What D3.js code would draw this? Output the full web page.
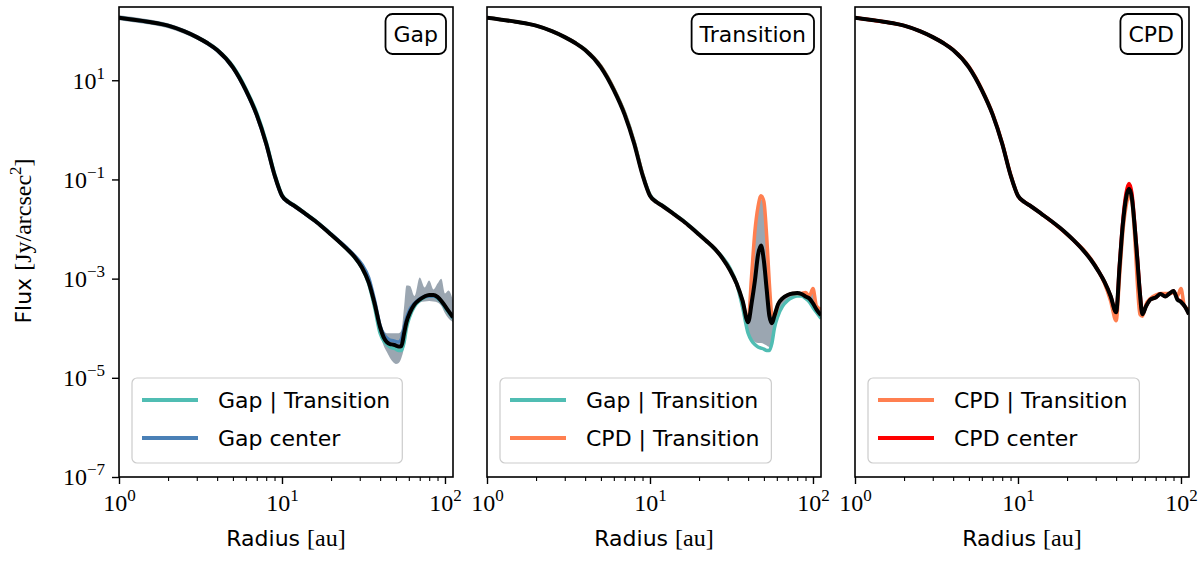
<!DOCTYPE html>
<html>
<head>
<meta charset="utf-8">
<script src="https://cdn.jsdelivr.net/npm/d3@7/dist/d3.min.js"></script>
<style>
  body { margin: 0; background: #fff; }
  svg { display: block; }
</style>
</head>
<body>
<svg id="chart" width="1200" height="561"></svg>
<script>
// ---------------- DATA ----------------
const radius = [1, 1.5, 2, 2.5, 3, 3.5, 4, 5, 6, 7, 8, 9, 10, 11, 12, 14, 16, 18, 20, 22, 25, 28, 31, 34, 37, 40, 42, 44, 46, 48, 50, 52, 54, 56, 58, 61, 65, 70, 75, 80, 85, 90, 95, 100, 105, 112];

// Panel "Gap"
const meanGap = [182, 151, 126, 97.7, 74.1, 55.6, 40.7, 18.2, 6.31, 2.0, 0.525, 0.123, 0.0468, 0.0347, 0.0288, 0.0200, 0.0145, 0.0105, 7.76e-3, 5.89e-3, 3.98e-3, 2.69e-3, 1.66e-3, 8.51e-4, 3.16e-4, 1.05e-4, 6.61e-5, 5.25e-5, 4.79e-5, 4.68e-5, 4.47e-5, 4.27e-5, 4.37e-5, 7.59e-5, 1.32e-4, 2.09e-4, 3.02e-4, 3.80e-4, 4.37e-4, 4.68e-4, 4.68e-4, 4.27e-4, 3.55e-4, 2.82e-4, 2.24e-4, 1.66e-4];
const gapTransition = [182, 151, 126, 97.7, 74.1, 56.2, 41.7, 19.1, 6.76, 2.19, 0.575, 0.132, 0.0490, 0.0355, 0.0295, 0.0204, 0.0148, 0.0107, 7.9e-3, 5.9e-3, 3.95e-3, 2.63e-3, 1.62e-3, 7.94e-4, 2.63e-4, 7.94e-5, 5.62e-5, 4.68e-5, 4.17e-5, 3.98e-5, 3.80e-5, 3.55e-5, 3.55e-5, 5.01e-5, 1.00e-4, 1.78e-4, 2.75e-4, 3.63e-4, 4.17e-4, 4.47e-4, 4.47e-4, 3.98e-4, 3.39e-4, 2.63e-4, 2.09e-4, 1.58e-4];
const gapCenter = [182, 151, 126, 97.7, 74.1, 55.0, 40.0, 17.8, 6.17, 1.95, 0.512, 0.120, 0.0460, 0.0342, 0.0285, 0.0198, 0.0144, 0.0106, 7.9e-3, 6.03e-3, 4.17e-3, 2.88e-3, 1.91e-3, 1.05e-3, 3.63e-4, 1.12e-4, 7.59e-5, 6.31e-5, 5.75e-5, 5.62e-5, 5.37e-5, 5.25e-5, 6.03e-5, 1.00e-4, 1.58e-4, 2.40e-4, 3.16e-4, 3.89e-4, 4.37e-4, 4.47e-4, 4.47e-4, 4.17e-4, 3.47e-4, 2.75e-4, 2.19e-4, 1.62e-4];
const gapBandLow = [162, 134, 112, 87.0, 66.0, 49.5, 36.2, 16.2, 5.62, 1.78, 0.467, 0.109, 0.0417, 0.0309, 0.0256, 0.0178, 0.0129, 9.35e-3, 6.91e-3, 5.24e-3, 3.54e-3, 2.40e-3, 1.48e-3, 7.41e-4, 2.51e-4, 7.94e-5, 4.47e-5, 3.31e-5, 2.51e-5, 2.09e-5, 1.91e-5, 2.00e-5, 2.51e-5, 3.98e-5, 1.00e-4, 1.78e-4, 2.75e-4, 3.31e-4, 3.47e-4, 3.55e-4, 3.47e-4, 3.31e-4, 2.82e-4, 2.00e-4, 1.58e-4, 1.32e-4];
const gapBandHigh = [204, 169, 141, 109, 83.0, 62.3, 45.6, 20.4, 7.07, 2.24, 0.588, 0.138, 0.0524, 0.0389, 0.0323, 0.0224, 0.0162, 0.0118, 8.69e-3, 6.60e-3, 4.46e-3, 3.02e-3, 2.00e-3, 1.12e-3, 3.80e-4, 1.20e-4, 8.91e-5, 7.94e-5, 7.94e-5, 7.94e-5, 7.94e-5, 7.94e-5, 8.91e-5, 2.51e-4, 7.24e-4, 7.08e-4, 4.47e-4, 1.05e-3, 6.61e-4, 9.12e-4, 6.03e-4, 7.94e-4, 1.00e-3, 5.01e-4, 5.75e-4, 3.63e-4];

// Panel "Transition"
const meanTransition = [182, 151, 126, 97.7, 74.1, 55.6, 40.7, 18.2, 6.31, 2.0, 0.525, 0.123, 0.0468, 0.0347, 0.0288, 0.0200, 0.0145, 0.0105, 7.76e-3, 5.89e-3, 3.98e-3, 2.51e-3, 1.48e-3, 7.94e-4, 3.55e-4, 1.32e-4, 3.16e-4, 8.91e-4, 3.02e-3, 4.68e-3, 2.24e-3, 6.03e-4, 1.78e-4, 1.26e-4, 1.78e-4, 3.02e-4, 3.98e-4, 4.68e-4, 5.01e-4, 5.13e-4, 4.90e-4, 4.37e-4, 3.98e-4, 3.16e-4, 2.40e-4, 1.82e-4];
const cpdTransition = [182, 151, 126, 97.7, 74.1, 56.0, 41.2, 18.9, 6.6, 2.1, 0.55, 0.127, 0.0468, 0.0347, 0.0288, 0.0200, 0.0145, 0.0105, 7.76e-3, 5.89e-3, 3.98e-3, 2.51e-3, 1.48e-3, 7.94e-4, 3.55e-4, 1.41e-4, 1.12e-3, 8.91e-3, 0.0282, 0.0468, 0.0355, 7.08e-3, 7.94e-4, 1.91e-4, 1.74e-4, 3.02e-4, 3.98e-4, 4.68e-4, 5.01e-4, 5.01e-4, 5.01e-4, 5.25e-4, 4.47e-4, 6.31e-4, 2.82e-4, 2.40e-4];
const transitionBandLow = [169, 140, 117, 90.9, 68.9, 51.7, 37.9, 16.9, 5.87, 1.86, 0.488, 0.114, 0.0435, 0.0323, 0.0268, 0.0186, 0.0135, 9.77e-3, 7.22e-3, 5.48e-3, 3.70e-3, 2.40e-3, 1.35e-3, 7.41e-4, 2.63e-4, 7.94e-5, 6.03e-5, 5.25e-5, 5.01e-5, 5.01e-5, 4.79e-5, 4.47e-5, 4.17e-5, 5.62e-5, 1.00e-4, 1.78e-4, 2.75e-4, 3.63e-4, 4.17e-4, 4.47e-4, 4.37e-4, 3.98e-4, 3.39e-4, 2.63e-4, 2.09e-4, 1.58e-4];
const transitionBandHigh = [195, 162, 135, 105, 79.3, 59.5, 43.5, 19.5, 6.75, 2.14, 0.562, 0.132, 0.0501, 0.0371, 0.0308, 0.0214, 0.0155, 0.0112, 8.30e-3, 6.30e-3, 4.26e-3, 2.63e-3, 1.55e-3, 8.51e-4, 3.80e-4, 1.58e-4, 1.12e-3, 8.91e-3, 0.0282, 0.0398, 0.0316, 7.08e-3, 7.94e-4, 1.91e-4, 2.00e-4, 3.31e-4, 4.27e-4, 5.01e-4, 5.37e-4, 5.37e-4, 5.25e-4, 5.50e-4, 4.79e-4, 6.31e-4, 3.02e-4, 2.51e-4];

// Panel "CPD"
const meanCPD = [182, 151, 126, 97.7, 74.1, 55.6, 40.7, 18.2, 6.31, 2.0, 0.525, 0.123, 0.0468, 0.0347, 0.0288, 0.0200, 0.0145, 0.0107, 7.94e-3, 5.89e-3, 3.80e-3, 2.40e-3, 1.45e-3, 8.51e-4, 4.47e-4, 2.09e-4, 1.78e-3, 0.0126, 0.0417, 0.0646, 0.0417, 0.0112, 2.40e-3, 5.01e-4, 1.91e-4, 2.75e-4, 3.80e-4, 4.17e-4, 4.90e-4, 4.37e-4, 5.01e-4, 5.62e-4, 3.80e-4, 3.39e-4, 2.82e-4, 1.91e-4];
const cpdCenter = [182, 151, 126, 97.7, 74.1, 55.6, 40.7, 18.2, 6.31, 2.0, 0.525, 0.123, 0.0468, 0.0347, 0.0288, 0.0200, 0.0145, 0.0107, 7.94e-3, 5.89e-3, 3.80e-3, 2.40e-3, 1.45e-3, 8.51e-4, 4.47e-4, 2.09e-4, 2.00e-3, 0.0151, 0.0525, 0.0832, 0.0525, 0.0132, 2.82e-3, 5.62e-4, 2.00e-4, 2.75e-4, 3.80e-4, 4.17e-4, 4.90e-4, 4.37e-4, 5.01e-4, 5.62e-4, 3.89e-4, 3.47e-4, 2.82e-4, 1.95e-4];

// Labels
const panelTitles = ["Gap", "Transition", "CPD"];
const xTickValues = [1, 10, 100];
const xTickExponents = ["0", "1", "2"];
const yTickValues = [1e1, 1e-1, 1e-3, 1e-5, 1e-7];
const yTickExponents = ["1", "\u22121", "\u22123", "\u22125", "\u22127"];
const legendGap = ["Gap | Transition", "Gap center"];
const legendTransition = ["Gap | Transition", "CPD | Transition"];
const legendCPD = ["CPD | Transition", "CPD center"];

// ---------------- STYLE / LAYOUT ----------------
const TEAL = "#50bdb3", BLUE = "#4a80b6", CORAL = "#ff7f50", RED = "#ff0000";
const SANS = "DejaVu Sans", SERIF = "Liberation Serif";
const SERIF_SIZE = 24, SUP_SIZE = 17;
const panelLefts = [119, 487, 855];
const panelTop = 7, panelW = 334, panelH = 470;

const panels = [
  { title: panelTitles[0], band: [gapBandLow, gapBandHigh],
    lines: [[gapTransition, TEAL], [gapCenter, BLUE]], mean: meanGap,
    legend: [[legendGap[0], TEAL], [legendGap[1], BLUE]] },
  { title: panelTitles[1], band: [transitionBandLow, transitionBandHigh],
    lines: [[gapTransition, TEAL], [cpdTransition, CORAL]], mean: meanTransition,
    legend: [[legendTransition[0], TEAL], [legendTransition[1], CORAL]] },
  { title: panelTitles[2], band: null,
    lines: [[cpdTransition, CORAL], [cpdCenter, RED]], mean: meanCPD,
    legend: [[legendCPD[0], CORAL], [legendCPD[1], RED]] }
];

const svg = d3.select("#chart");
const x = d3.scaleLog().domain([1, 112]).range([0, panelW]);
const y = d3.scaleLog().domain([1e-7, 300]).range([panelH, 0]);

const lineGen = d3.line().x(d => x(d[0])).y(d => y(d[1])).curve(d3.curveMonotoneX);
const areaGen = d3.area().x(d => x(d[0])).y0(d => y(d[1])).y1(d => y(d[2])).curve(d3.curveMonotoneX);

svg.append("defs").append("clipPath").attr("id", "clip")
  .append("rect").attr("x", 0).attr("y", 0).attr("width", panelW).attr("height", panelH);

panels.forEach((p, i) => {
  const g = svg.append("g").attr("transform", `translate(${panelLefts[i]},${panelTop})`);
  const plot = g.append("g").attr("clip-path", "url(#clip)");

  if (p.band) {
    plot.append("path")
      .datum(radius.map((r, j) => [r, p.band[0][j], p.band[1][j]]))
      .attr("d", areaGen)
      .attr("fill", "#708090").attr("fill-opacity", 0.7).attr("stroke", "none");
  }
  p.lines.forEach(([vals, col]) => {
    plot.append("path")
      .datum(radius.map((r, j) => [r, vals[j]]))
      .attr("d", lineGen)
      .attr("fill", "none").attr("stroke", col).attr("stroke-width", 3.5)
      .attr("stroke-linejoin", "round");
  });
  plot.append("path")
    .datum(radius.map((r, j) => [r, p.mean[j]]))
    .attr("d", lineGen)
    .attr("fill", "none").attr("stroke", "#000").attr("stroke-width", 4)
    .attr("stroke-linejoin", "round");

  // x axis: minor ticks
  const minor = [];
  [1, 10].forEach(dec => { for (let k = 2; k <= 9; k++) minor.push(k * dec); });
  const minorAxis = d3.axisBottom(x).tickValues(minor).tickSize(4).tickFormat(() => "");
  const mg = g.append("g").attr("transform", `translate(0,${panelH})`).call(minorAxis);
  mg.select(".domain").remove();
  mg.selectAll(".tick line").attr("stroke", "#000").attr("stroke-width", 1.1);

  const majorAxis = d3.axisBottom(x).tickValues(xTickValues).tickSize(7).tickFormat(() => "");
  const xg = g.append("g").attr("transform", `translate(0,${panelH})`).call(majorAxis);
  xg.select(".domain").remove();
  xg.selectAll(".tick line").attr("stroke", "#000").attr("stroke-width", 1.4);
  xg.selectAll(".tick text").each(function (d, k) {
    const t = d3.select(this);
    t.attr("font-family", SERIF).attr("font-size", SERIF_SIZE).attr("fill", "#000")
      .attr("dy", null).attr("y", 34);
    t.append("tspan").text("10");
    t.append("tspan").attr("font-size", SUP_SIZE).attr("dy", -10).text(xTickExponents[k]);
  });

  if (i === 0) {
    const yAxis = d3.axisLeft(y).tickValues(yTickValues).tickSize(7).tickFormat(() => "");
    const yg = g.append("g").call(yAxis);
    yg.select(".domain").remove();
    yg.selectAll(".tick line").attr("stroke", "#000").attr("stroke-width", 1.4);
    yg.selectAll(".tick text").each(function (d, k) {
      const t = d3.select(this);
      t.attr("font-family", SERIF).attr("font-size", SERIF_SIZE).attr("fill", "#000")
        .attr("dy", "0.33em").attr("x", -14);
      t.append("tspan").text("10");
      t.append("tspan").attr("font-size", SUP_SIZE).attr("dy", -10).text(yTickExponents[k]);
    });
  }

  // spines
  g.append("rect").attr("x", 0).attr("y", 0).attr("width", panelW).attr("height", panelH)
    .attr("fill", "none").attr("stroke", "#000").attr("stroke-width", 1.6);

  // x label
  const xl = g.append("text").attr("x", panelW / 2).attr("y", panelH + 69)
    .attr("text-anchor", "middle").attr("fill", "#000");
  xl.append("tspan").attr("font-family", SANS).attr("font-size", 22).text("Radius ");
  xl.append("tspan").attr("font-family", SERIF).attr("font-size", SERIF_SIZE).text("[au]");

  // title box
  const tb = g.append("g");
  const tt = tb.append("text").attr("font-family", SANS).attr("font-size", 22)
    .attr("text-anchor", "end").attr("fill", "#000").text(p.title);
  const tw = tt.node().getComputedTextLength();
  const boxW = tw + 16, boxR = panelW - 7, boxTop = 7, boxH = 40;
  tb.insert("rect", "text").attr("x", boxR - boxW).attr("y", boxTop)
    .attr("width", boxW).attr("height", boxH).attr("rx", 7).attr("ry", 7)
    .attr("fill", "#fff").attr("stroke", "#000").attr("stroke-width", 1.8);
  tt.attr("x", boxR - 8).attr("y", boxTop + boxH / 2 + 8);

  // legend
  const lg = g.append("g");
  const texts = [];
  p.legend.forEach(([lab, col], k) => {
    const ly = 393 + k * 38;
    lg.append("line").attr("x1", 23).attr("x2", 79).attr("y1", ly).attr("y2", ly)
      .attr("stroke", col).attr("stroke-width", 4);
    texts.push(lg.append("text").attr("x", 99).attr("y", ly + 8)
      .attr("font-family", SANS).attr("font-size", 22).attr("fill", "#000").text(lab));
  });
  const maxW = d3.max(texts, t => t.node().getComputedTextLength());
  lg.insert("rect", "line").attr("x", 13).attr("y", 371)
    .attr("width", 99 - 13 + maxW + 12).attr("height", 85).attr("rx", 5).attr("ry", 5)
    .attr("fill", "#fff").attr("fill-opacity", 0.8).attr("stroke", "#cccccc").attr("stroke-width", 1.2);
});

// y label
const yl = svg.append("text").attr("transform", "translate(31,241) rotate(-90)")
  .attr("text-anchor", "middle").attr("fill", "#000");
yl.append("tspan").attr("font-family", SANS).attr("font-size", 22).text("Flux ");
yl.append("tspan").attr("font-family", SERIF).attr("font-size", SERIF_SIZE).text("[Jy/arcsec");
yl.append("tspan").attr("font-family", SERIF).attr("font-size", SUP_SIZE).attr("dy", -10).text("2");
yl.append("tspan").attr("font-family", SERIF).attr("font-size", SERIF_SIZE).attr("dy", 10).text("]");
</script>
</body>
</html>
